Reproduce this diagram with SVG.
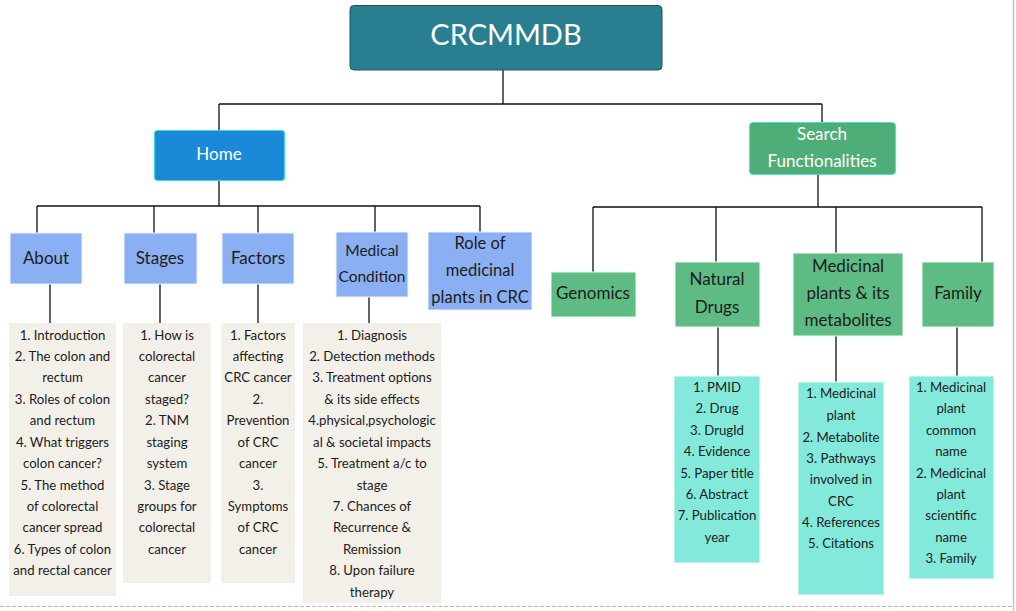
<svg xmlns="http://www.w3.org/2000/svg" width="1016" height="611" viewBox="0 0 1016 611">
<style>
.t{font-family:Lato,"Open Sans","Liberation Sans",sans-serif;text-anchor:middle}
.w{fill:#ffffff}
.d{fill:#1c1c1c}
.h{font-size:17px}
.s{font-size:13.2px}
.blue{fill:#8ab0f3;stroke:#eef3fb;stroke-width:1}
.green{fill:#5fbb84;stroke:#eefaf2;stroke-width:1}
.beige{fill:#f3f0e9}
.cyan{fill:#83eadb;stroke:#eefcf9;stroke-width:1}
.c{stroke:#111;stroke-width:1.3;fill:none}
</style>
<rect width="1016" height="611" fill="#ffffff"/>
<line x1="1013.5" y1="0" x2="1013.5" y2="611" stroke="#c4c4c4" stroke-width="1.5"/>
<line x1="0" y1="606.5" x2="1013" y2="606.5" stroke="#b8b8b8" stroke-width="1" stroke-dasharray="4,2"/>
<g id="connectors">
<path class="c" d="M503 70V104M219 104H822M219 104V130M822 104V122"/>
<path class="c" d="M219 180V206M37 206H480M37 206V233M154 206V233M258 206V233M375 206V232M480 206V232"/>
<path class="c" d="M50 284V323M160 284V323M258 284V323M369 297V323"/>
<path class="c" d="M818 174V207M593 207H982M593 207V272M716 207V262M836 207V253M982 207V262"/>
<path class="c" d="M718 327V376M836 336V382M957 327V376"/>
</g>
<g id="root">
<rect x="350" y="5.5" width="312" height="64.5" rx="4" fill="#297f8f" stroke="#1b5662" stroke-width="1"/>
<text class="t w" x="506" y="45" font-size="29">CRCMMDB</text>
</g>
<g id="home">
<rect x="154.5" y="130.5" width="130" height="50" rx="3" fill="#1a8ad8" stroke="#3fdcd0" stroke-width="1.2"/>
<text class="t w h" x="219" y="160">Home</text>
</g>
<g id="search">
<rect x="749.5" y="122.5" width="146" height="52" rx="4" fill="#4fae78" stroke="#4fe0c8" stroke-width="1.2"/>
<text class="t w h" x="822" y="140">Search</text>
<text class="t w h" x="822" y="167">Functionalities</text>
</g>
<g id="about">
<rect class="blue" x="10" y="233" width="72" height="51"/>
<text class="t d h" x="46" y="264">About</text>
</g>
<g id="stages">
<rect class="blue" x="124" y="233" width="73" height="51"/>
<text class="t d h" x="160" y="264">Stages</text>
</g>
<g id="factors">
<rect class="blue" x="222" y="233" width="72" height="51"/>
<text class="t d h" x="258" y="264">Factors</text>
</g>
<g id="medical-condition">
<rect class="blue" x="336" y="232" width="72" height="65"/>
<text class="t d" font-size="15.5" x="372" y="256">Medical</text>
<text class="t d" font-size="15.5" x="372" y="282">Condition</text>
</g>
<g id="role">
<rect class="blue" x="428" y="232" width="104" height="78"/>
<text class="t d" font-size="16.5" x="480" y="249">Role of</text>
<text class="t d" font-size="16.5" x="480" y="276">medicinal</text>
<text class="t d" font-size="16.5" x="480" y="303">plants in CRC</text>
</g>
<g id="about-list">
<rect class="beige" x="9" y="323" width="107" height="273"/>
<g class="t d s">
<text x="62.5" y="340">1. Introduction</text>
<text x="62.5" y="361">2. The colon and</text>
<text x="62.5" y="382">rectum</text>
<text x="62.5" y="404">3. Roles of colon</text>
<text x="62.5" y="425">and rectum</text>
<text x="62.5" y="447">4. What triggers</text>
<text x="62.5" y="468">colon cancer?</text>
<text x="62.5" y="490">5. The method</text>
<text x="62.5" y="511">of colorectal</text>
<text x="62.5" y="532">cancer spread</text>
<text x="62.5" y="554">6. Types of colon</text>
<text x="62.5" y="575">and rectal cancer</text>
</g>
</g>
<g id="stages-list">
<rect class="beige" x="123" y="323" width="88" height="260"/>
<g class="t d s">
<text x="167" y="340">1. How is</text>
<text x="167" y="361">colorectal</text>
<text x="167" y="382">cancer</text>
<text x="167" y="404">staged?</text>
<text x="167" y="425">2. TNM</text>
<text x="167" y="447">staging</text>
<text x="167" y="468">system</text>
<text x="167" y="490">3. Stage</text>
<text x="167" y="511">groups for</text>
<text x="167" y="532">colorectal</text>
<text x="167" y="554">cancer</text>
</g>
</g>
<g id="factors-list">
<rect class="beige" x="221" y="323" width="74" height="260"/>
<g class="t d s">
<text x="258" y="340">1. Factors</text>
<text x="258" y="361">affecting</text>
<text x="258" y="382">CRC cancer</text>
<text x="258" y="404">2.</text>
<text x="258" y="425">Prevention</text>
<text x="258" y="447">of CRC</text>
<text x="258" y="468">cancer</text>
<text x="258" y="490">3.</text>
<text x="258" y="511">Symptoms</text>
<text x="258" y="532">of CRC</text>
<text x="258" y="554">cancer</text>
</g>
</g>
<g id="medical-list">
<rect class="beige" x="303" y="323" width="138" height="280"/>
<g class="t d s">
<text x="372" y="340">1. Diagnosis</text>
<text x="372" y="361">2. Detection methods</text>
<text x="372" y="382">3. Treatment options</text>
<text x="372" y="404">&amp; its side effects</text>
<text x="372" y="425">4.physical,psychologic</text>
<text x="372" y="447">al &amp; societal impacts</text>
<text x="372" y="468">5. Treatment a/c to</text>
<text x="372" y="490">stage</text>
<text x="372" y="511">7. Chances of</text>
<text x="372" y="532">Recurrence &amp;</text>
<text x="372" y="554">Remission</text>
<text x="372" y="575">8. Upon failure</text>
<text x="372" y="597">therapy</text>
</g>
</g>
<g id="genomics">
<rect class="green" x="551" y="272" width="85" height="45"/>
<text class="t d h" x="593" y="299">Genomics</text>
</g>
<g id="natural-drugs">
<rect class="green" x="675" y="262" width="85" height="65"/>
<text class="t d h" x="717" y="285">Natural</text>
<text class="t d h" x="717" y="313">Drugs</text>
</g>
<g id="medicinal-plants">
<rect class="green" x="793" y="253" width="110" height="83"/>
<text class="t d h" x="848" y="272">Medicinal</text>
<text class="t d h" x="848" y="299">plants &amp; its</text>
<text class="t d h" x="848" y="326">metabolites</text>
</g>
<g id="family">
<rect class="green" x="922" y="262" width="72" height="65"/>
<text class="t d h" x="958" y="299">Family</text>
</g>
<g id="natural-drugs-list">
<rect class="cyan" x="674" y="376" width="86" height="187"/>
<g class="t d s">
<text x="717" y="392">1. PMID</text>
<text x="717" y="413">2. Drug</text>
<text x="717" y="435">3. DrugId</text>
<text x="717" y="456">4. Evidence</text>
<text x="717" y="478">5. Paper title</text>
<text x="717" y="499">6. Abstract</text>
<text x="717" y="520">7. Publication</text>
<text x="717" y="542">year</text>
</g>
</g>
<g id="medicinal-list">
<rect class="cyan" x="798" y="382" width="86" height="213"/>
<g class="t d s">
<text x="841" y="398">1. Medicinal</text>
<text x="841" y="420">plant</text>
<text x="841" y="442">2. Metabolite</text>
<text x="841" y="463">3. Pathways</text>
<text x="841" y="484">involved in</text>
<text x="841" y="506">CRC</text>
<text x="841" y="527">4. References</text>
<text x="841" y="548">5. Citations</text>
</g>
</g>
<g id="family-list">
<rect class="cyan" x="909" y="376" width="85" height="203"/>
<g class="t d s">
<text x="951" y="392">1. Medicinal</text>
<text x="951" y="413">plant</text>
<text x="951" y="435">common</text>
<text x="951" y="456">name</text>
<text x="951" y="478">2. Medicinal</text>
<text x="951" y="499">plant</text>
<text x="951" y="520">scientific</text>
<text x="951" y="542">name</text>
<text x="951" y="563">3. Family</text>
</g>
</g>
</svg>
